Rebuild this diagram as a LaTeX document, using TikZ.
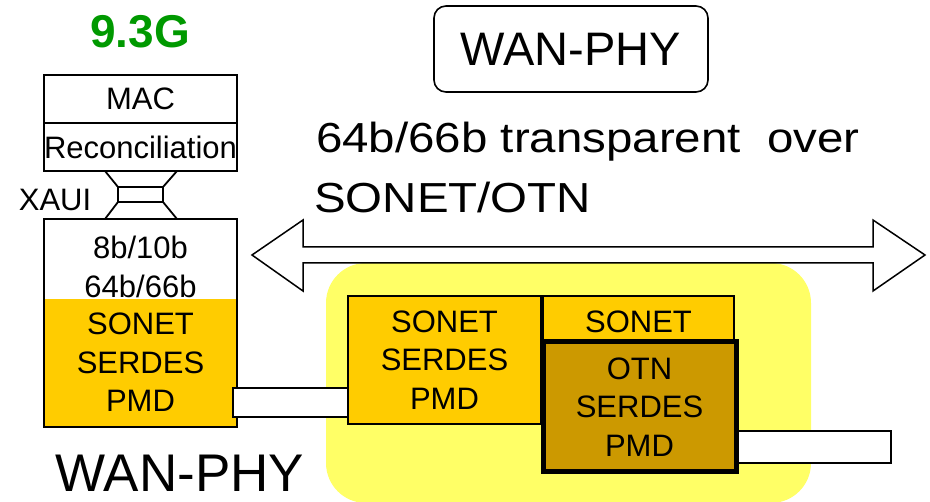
\documentclass[tikz,border=0pt]{standalone}
\usepackage{fontspec}
\setmainfont{Liberation Sans}
\newfontfamily\widesans[FakeStretch=1.13]{Liberation Sans}
\definecolor{gold}{HTML}{FFCC00}
\definecolor{darkgold}{HTML}{CC9900}
\definecolor{paleyellow}{HTML}{FFFF66}
\definecolor{titlegreen}{HTML}{009900}
\begin{document}
\begin{tikzpicture}[x=1pt,y=-1pt,
  txt/.style={inner sep=0pt, align=center, font=\fontsize{31}{38.5}\selectfont},
  boxline/.style={draw=black, line width=1.8pt, inner sep=0pt},
  bar/.style={draw=black, fill=white, line width=1.5pt, inner sep=0pt},
  xauiline/.style={draw=black, line width=1.8pt}]
\useasboundingbox (0,0) rectangle (930,502);
% yellow region
\fill[paleyellow, rounded corners=40pt] (326,263) rectangle (811,503);
% double arrow
\coordinate (aL) at (252,255);
\coordinate (aR) at (925,255);
\draw[line width=1.5pt, fill=white, line join=miter]
  (aL) -- (303,220) -- (303,247) -- (873,247) -- (873,220) -- (aR)
  -- (873,291) -- (873,263) -- (303,263) -- (303,291) -- cycle;
% left stack
\node[inner sep=0pt, anchor=base, text=titlegreen, font=\bfseries\fontsize{46}{46}\selectfont] (rate) at (140,48) {9.3G};
\node[boxline, txt, minimum width=193pt, minimum height=48pt] (mac) at (140.5,99) {MAC};
\node[boxline, txt, minimum width=193pt, minimum height=48pt] (rec) at (140.5,147) {Reconciliation};
% XAUI interface
\draw[xauiline] (105,171) -- (118,187) -- (118,202) -- (105,219);
\draw[xauiline] (177,171) -- (163,187) -- (163,202) -- (177,219);
\draw[xauiline] (118,187) -- (163,187) (118,202) -- (163,202);
\node[txt, anchor=base] (xaui) at (55,211) {XAUI};
% lower left box
\node[txt] (enc) at (140.5,267) {8b/10b\\64b/66b};
\fill[gold] (44,299) rectangle (237,427);
\node[txt] (pmdL) at (140.5,362.5) {SONET\\SERDES\\PMD};
\node[boxline, minimum width=193pt, minimum height=208pt] (phy) at (140.5,323) {};
% left link
\node[bar, minimum width=115pt, minimum height=29pt] (lbar) at (290.5,402.5) {};
% SONET box
\node[boxline, fill=gold, txt, minimum width=193pt, minimum height=128pt] (son1) at (444.5,360) {SONET\\SERDES\\PMD};
% SONET framing box
\node[boxline, fill=gold, minimum width=191pt, minimum height=46pt] (son2) at (638.5,319) {};
\node[txt] (son2t) at (638.5,322) {SONET};
% right link
\node[bar, minimum width=153pt, minimum height=32pt] (rbar) at (814.5,447) {};
% OTN box
\node[draw=black, line width=5pt, fill=darkgold, txt, minimum width=193pt, minimum height=130pt] (otn) at (639.5,407) {OTN\\SERDES\\PMD};
% titles
\node[draw=black, line width=1.6pt, rounded corners=12pt, minimum width=274pt, minimum height=86pt, inner sep=0pt, font=\fontsize{47}{47}\selectfont] (title) at (571,49) {WAN-PHY};
\node[inner sep=0pt, anchor=base west, font=\widesans\fontsize{42}{60}\selectfont] (desc1) at (316,153) {64b/66b transparent\ \ over};
\node[inner sep=0pt, anchor=base west, font=\widesans\fontsize{42}{60}\selectfont] (desc2) at (314,213) {SONET/OTN};
\node[inner sep=0pt, anchor=base, font=\fontsize{53}{53}\selectfont] (wanphy) at (180,492) {WAN-PHY};
\end{tikzpicture}
\end{document}
